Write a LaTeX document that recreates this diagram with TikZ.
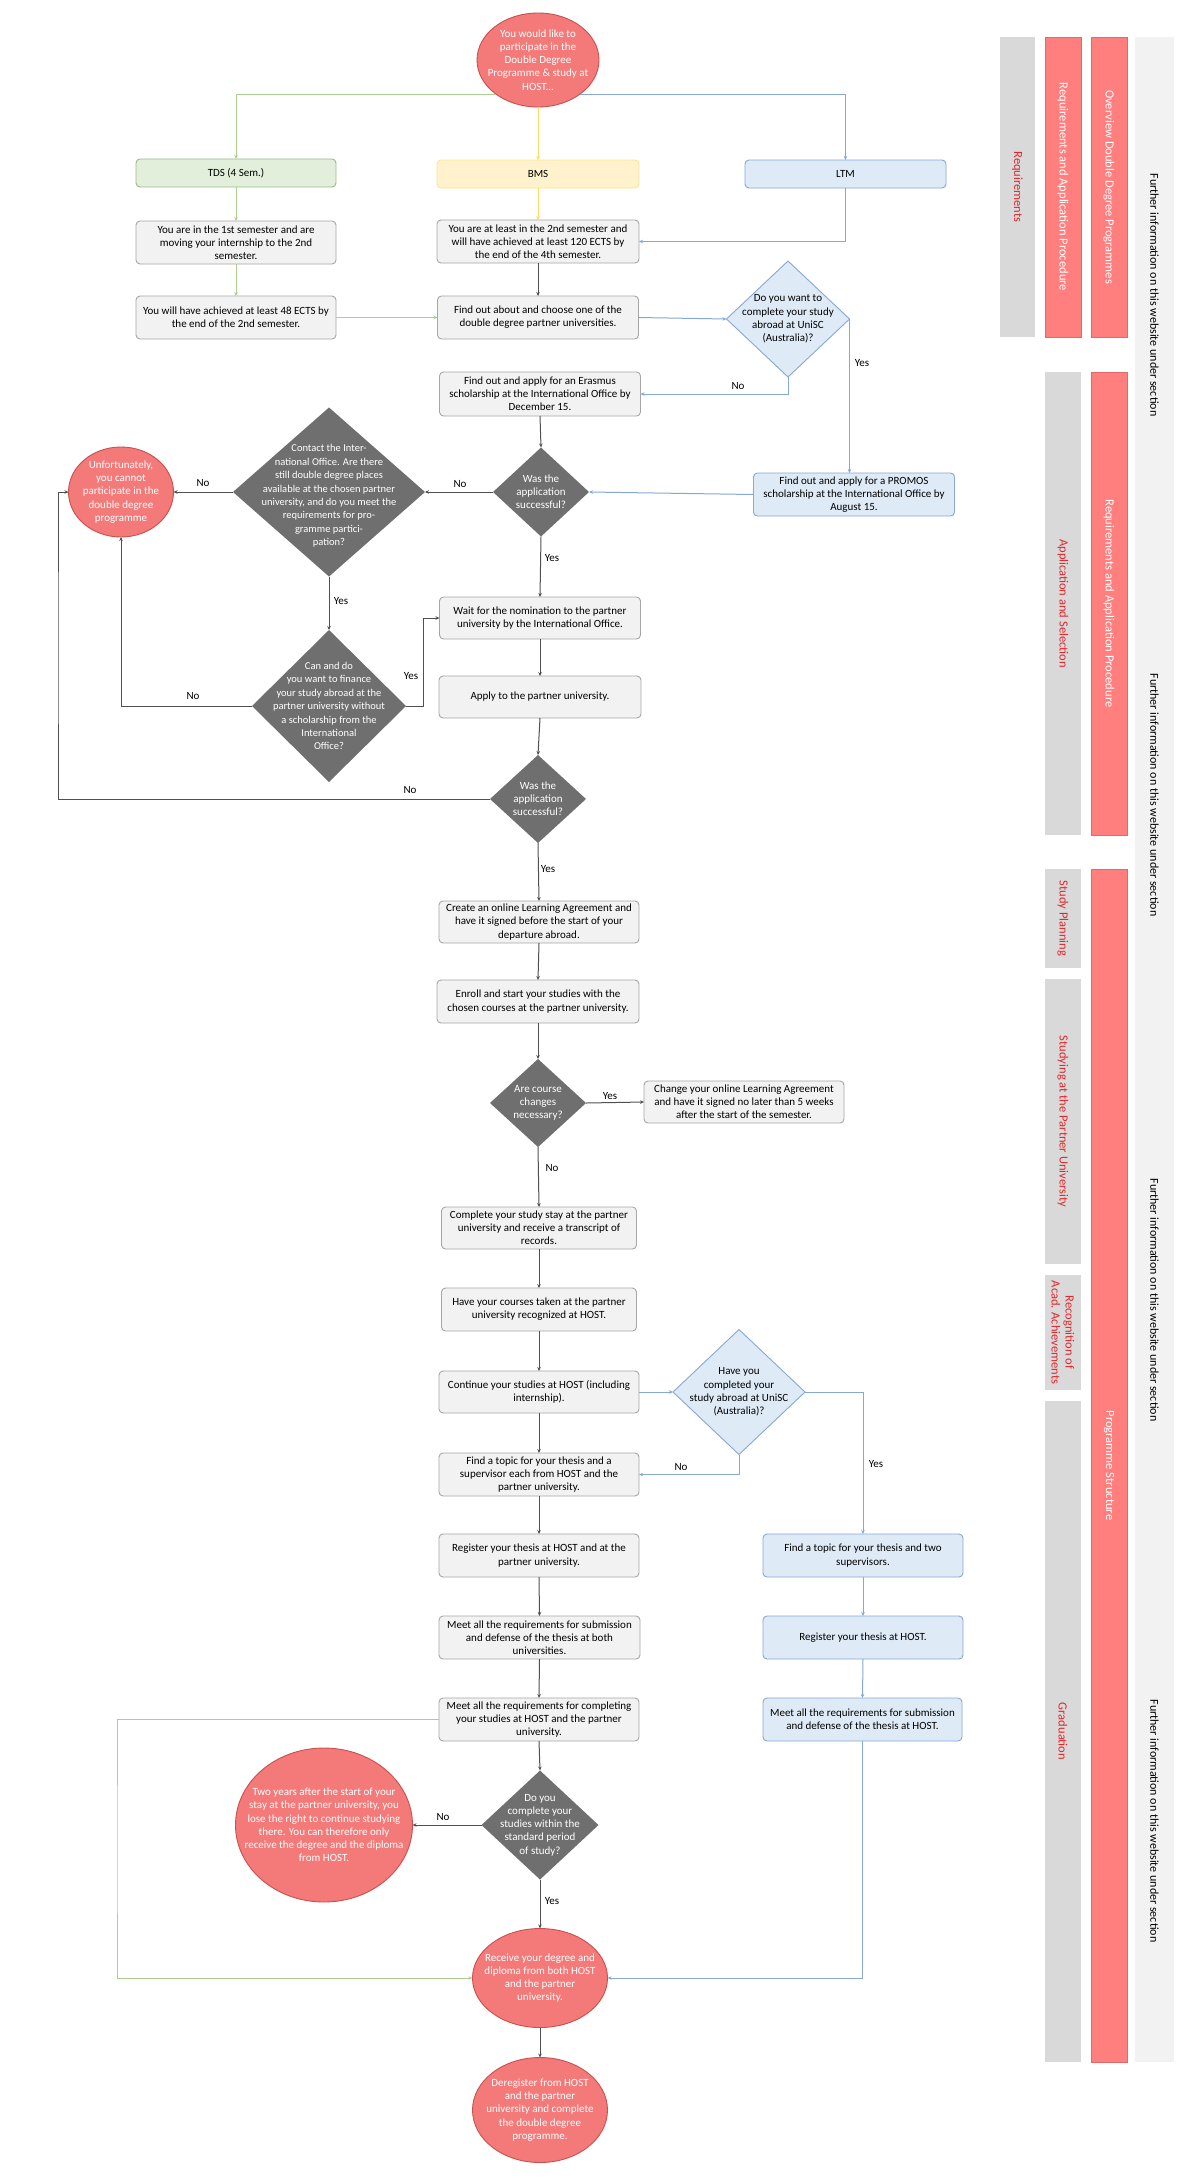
\documentclass[tikz,border=0pt]{standalone}
\usepackage{fontspec}
\setmainfont{Carlito}
\usetikzlibrary{shapes.geometric,arrows.meta}
\definecolor{boxfill}{HTML}{F2F2F2}
\definecolor{boxborder}{HTML}{A6A6A6}
\definecolor{greenfill}{HTML}{E2EFDA}
\definecolor{greenborder}{HTML}{9DB88A}
\definecolor{yellowfill}{HTML}{FFF2CC}
\definecolor{yellowborder}{HTML}{FFE38F}
\definecolor{bluefill}{HTML}{DEEBF7}
\definecolor{blueborder}{HTML}{86A8D3}
\definecolor{diagray}{HTML}{6F6F6F}
\definecolor{redfill}{HTML}{F47A7A}
\definecolor{redborder}{HTML}{C9504E}
\definecolor{barred}{HTML}{FF7F7F}
\definecolor{barredborder}{HTML}{E06A6A}
\definecolor{bargray}{HTML}{D9D9D9}
\definecolor{barlight}{HTML}{F2F2F2}
\definecolor{bartext}{HTML}{E3262B}
\definecolor{linegray}{HTML}{505050}
\definecolor{linegreen}{HTML}{A9D08E}
\definecolor{lineyellow}{HTML}{FFD966}
\definecolor{lineblue}{HTML}{86A8D3}
\begin{document}
\begin{tikzpicture}[x=1pt,y=-1pt,
  base/.style={font=\fontsize{11}{13.2}\selectfont, align=center, inner sep=0pt, outer sep=0pt},
  sz/.style 2 args={minimum width=#1, minimum height=#2},
  gbox/.style={base, rectangle, rounded corners=4pt, draw=boxborder, fill=boxfill, line width=0.9pt},
  grbox/.style={gbox, draw=greenborder, fill=greenfill},
  ybox/.style={gbox, draw=yellowborder, fill=yellowfill},
  bbox/.style={gbox, draw=blueborder, fill=bluefill},
  ddia/.style={base, diamond, fill=diagray},
  bdia/.style={base, diamond, fill=bluefill, draw=blueborder, line width=0.9pt},
  redell/.style={base, ellipse, fill=redfill, draw=redborder, line width=0.9pt},
  wtxt/.style={base, text=white},
  btxt/.style={base, text=black},
  lbl/.style={base},
  arr/.style={line width=1pt, -{Stealth[length=4pt,width=3.5pt]}},
  cgray/.style={arr, draw=linegray},
  cgreen/.style={arr, draw=linegreen},
  cyellow/.style={arr, draw=lineyellow},
  cblue/.style={arr, draw=lineblue},
  redbar/.style={rectangle, inner sep=0pt, fill=barred, draw=barredborder, line width=0.8pt},
  graybar/.style={rectangle, inner sep=0pt, fill=bargray},
  lightbar/.style={rectangle, inner sep=0pt, fill=barlight},
  redbartxt/.style={font=\fontsize{12.5}{14}\selectfont, text=white, rotate=-90, align=center, inner sep=0pt},
  graybartxt/.style={font=\fontsize{12.5}{14}\selectfont, text=bartext, rotate=-90, align=center, inner sep=0pt},
  lighttxt/.style={font=\fontsize{12}{14}\selectfont, text=black, rotate=-90, inner sep=0pt}
]
\useasboundingbox[fill=white] (0,0) rectangle (1200,2179);

% ---------- right side bars ----------
\node[lightbar, sz={39}{2025}] (lb) at (1154.5,1049.5) {};
\node[lighttxt] (lt1) at (1154.5,295) {Further information on this website under section};
\node[lighttxt] (lt2) at (1154.5,795) {Further information on this website under section};
\node[lighttxt] (lt3) at (1154.5,1300) {Further information on this website under section};
\node[lighttxt] (lt4) at (1154.5,1821) {Further information on this website under section};

\node[graybar, sz={35}{300}, label={[graybartxt]center:Requirements}] (g1) at (1017.5,187) {};
\node[redbar, sz={36}{300}, label={[redbartxt]center:Requirements and Application Procedure}] (r1) at (1063,187) {};
\node[redbar, sz={36}{300}, label={[redbartxt]center:Overview Double Degree Programmes}] (r0) at (1109,187) {};

\node[graybar, sz={36}{463}, label={[graybartxt]center:Application and Selection}] (g2) at (1063,603.5) {};
\node[redbar, sz={36}{463}, label={[redbartxt]center:Requirements and Application Procedure}] (r2) at (1109,603.5) {};

\node[graybar, sz={36}{99}, label={[graybartxt]center:Study Planning}] (g3) at (1063,918.5) {};
\node[graybar, sz={36}{285}, label={[graybartxt]center:Studying at the Partner University}] (g4) at (1063,1121.5) {};
\node[graybar, sz={36}{115}, label={[graybartxt]center:{Recognition of\\Acad. Achievements}}] (g5) at (1063,1332.5) {};
\node[graybar, sz={36}{661}, label={[graybartxt]center:Graduation}] (g6) at (1063,1731.5) {};
\node[redbar, sz={36}{1193}, label={[redbartxt]center:Programme Structure}] (r3) at (1109,1465.5) {};

% ---------- nodes ----------
\node[redell, sz={122}{94}, label={[wtxt]center:{You would like to\\participate in the\\Double Degree\\Programme \& study at\\HOST...}}] (start) at (538,60) {};

\node[grbox, sz={200}{28}] (tds) at (236,173) {TDS (4 Sem.)};
\node[ybox, sz={202}{28}] (bms) at (538,174) {BMS};
\node[bbox, sz={201}{28}] (ltm) at (845.5,174) {LTM};

\node[gbox, sz={200}{43}] (tds1) at (236,242.5) {You are in the 1st semester and are\\moving your internship to the 2nd\\semester.};
\node[gbox, sz={202}{43}] (bms1) at (538,241.5) {You are at least in the 2nd semester and\\will have achieved at least 120 ECTS by\\the end of the 4th semester.};
\node[gbox, sz={200}{43}] (tds2) at (236,317.5) {You will have achieved at least 48 ECTS by\\the end of the 2nd semester.};
\node[gbox, sz={201}{43}] (find) at (538,317.5) {Find out about and choose one of the\\double degree partner universities.};
\node[bdia, sz={123}{116}, label={[btxt]center:{Do you want to\\complete your study\\abroad at UniSC\\(Australia)?}}] (unisc) at (788,319) {};
\node[gbox, sz={201}{44}] (erasmus) at (540,394) {Find out and apply for an Erasmus\\scholarship at the International Office by\\December 15.};

\node[ddia, sz={96}{89}, label={[wtxt]center:{Was the\\application\\successful?}}] (d1) at (541,492) {};
\node[bbox, sz={201}{43}] (promos) at (854,494.5) {Find out and apply for a PROMOS\\scholarship at the International Office by\\August 15.};
\node[ddia, sz={192}{169}, label={[wtxt, font=\fontsize{10.5}{13.4}\selectfont, yshift=-4pt]center:{Contact the Inter-\\national Office. Are there\\still double degree places\\available at the chosen partner\\university, and do you meet the\\requirements for pro-\\gramme partici-\\pation?}}] (d2) at (329,492) {};
\node[redell, sz={105}{90}, label={[wtxt]center:{Unfortunately,\\you cannot\\participate in the\\double degree\\programme}}] (unfort) at (121,492) {};
\node[ddia, sz={154}{152}, label={[wtxt, font=\fontsize{10.5}{13.4}\selectfont]center:{Can and do\\you want to finance\\your study abroad at the\\partner university without\\a scholarship from the\\International\\Office?}}] (d3) at (329,706) {};

\node[gbox, sz={201}{42}] (wait) at (540,618) {Wait for the nomination to the partner\\university by the International Office.};
\node[gbox, sz={202}{42}] (apply) at (540,697) {Apply to the partner university.};
\node[ddia, sz={96}{88}, label={[wtxt]center:{Was the\\application\\successful?}}] (d4) at (538,799) {};

\node[gbox, sz={200}{42}] (la) at (539,922) {Create an online Learning Agreement and\\have it signed before the start of your\\departure abroad.};
\node[gbox, sz={202}{43}] (enroll) at (538,1001.5) {Enroll and start your studies with the\\chosen courses at the partner university.};
\node[ddia, sz={96}{88}, label={[wtxt]center:{Are course\\changes\\necessary?}}] (d5) at (538,1103) {};
\node[gbox, sz={200}{42}] (change) at (744,1102) {Change your online Learning Agreement\\and have it signed no later than 5 weeks\\after the start of the semester.};

\node[gbox, sz={195}{42}] (complete) at (539,1228) {Complete your study stay at the partner\\university and receive a transcript of\\records.};
\node[gbox, sz={195}{43}] (courses) at (539,1309.5) {Have your courses taken at the partner\\university recognized at HOST.};
\node[gbox, sz={200}{42}] (cont) at (539,1392) {Continue your studies at HOST (including\\internship).};
\node[bdia, sz={132}{125}, label={[btxt]center:{Have you\\completed your\\study abroad at UniSC\\(Australia)?}}] (d6) at (739,1392) {};

\node[gbox, sz={200}{43}] (topic) at (539,1474.5) {Find a topic for your thesis and a\\supervisor each from HOST and the\\partner university.};
\node[gbox, sz={200}{43}] (register) at (539,1555.5) {Register your thesis at HOST and at the\\partner university.};
\node[bbox, sz={200}{43}] (topic2) at (863,1555.5) {Find a topic for your thesis and two\\supervisors.};
\node[gbox, sz={201}{43}] (meet1) at (539.5,1637.5) {Meet all the requirements for submission\\and defense of the thesis at both\\universities.};
\node[bbox, sz={200}{43}] (register2) at (863,1637.5) {Register your thesis at HOST.};
\node[gbox, sz={200}{43}] (meet3) at (539,1719.5) {Meet all the requirements for completing\\your studies at HOST and the partner\\university.};
\node[bbox, sz={199}{43}] (meet2) at (862.5,1719.5) {Meet all the requirements for submission\\and defense of the thesis at HOST.};

\node[ddia, sz={117}{109}, label={[wtxt]center:{Do you\\complete your\\studies within the\\standard period\\of study?}}] (d7) at (540,1825) {};
\node[redell, sz={177}{154}, label={[wtxt]center:{Two years after the start of your\\stay at the partner university, you\\lose the right to continue studying\\there. You can therefore only\\receive the degree and the diploma\\from HOST.}}] (two) at (324,1825) {};
\node[redell, sz={135}{99}, label={[wtxt]center:{Receive your degree and\\diploma from both HOST\\and the partner\\university.}}] (receive) at (540,1978) {};
\node[redell, sz={135}{105}, label={[wtxt]center:{Deregister from HOST\\and the partner\\university and complete\\the double degree\\programme.}}] (dereg) at (540,2110) {};

\coordinate (lftc) at (58,650);
\coordinate (grc) at (117,1850);

% ---------- connectors ----------
\draw[cgreen] (start.219) -| (tds.north);
\draw[cyellow] (start.south) -- (bms.north);
\draw[cblue] (start.-39) -| (ltm.north);
\draw[cgreen] (tds.south) -- (tds1.north);
\draw[cgreen] (tds1.south) -- (tds2.north);
\draw[cyellow] (bms.south) -- (bms1.north);
\draw[cblue] (ltm.south) |- (bms1.east);
\draw[cgray] (bms1.south) -- (find.north);
\draw[cgreen] (tds2.east) -- (find.west);
\draw[cblue] (find.east) -- (unisc.west);
\draw[cblue] (unisc.south) |- (erasmus.east);
\draw[cblue] (unisc.east) -- (unisc.east |- promos.north);
\draw[cgray] (erasmus.south) -- (d1.north);
\draw[cblue] (promos.west) -- (d1.east);
\draw[cgray] (d1.west) -- (d2.east);
\draw[cgray] (d2.west) -- (unfort.east);
\draw[cgray] (d2.south) -- (d3.north);
\draw[cgray] (d3.west) -| (unfort.south);
\draw[cgray] (d3.east) -- ++(17,0) |- (wait.west);
\draw[cgray] (d1.south) -- (wait.north);
\draw[cgray] (wait.south) -- (apply.north);
\draw[cgray] (apply.south) -- (d4.north);
\draw[cgray] (d4.west) -| (lftc) |- (unfort.west);
\draw[cgray] (d4.south) -- (la.north);
\draw[cgray] (la.south) -- (enroll.north);
\draw[cgray] (enroll.south) -- (d5.north);
\draw[cgray] (d5.east) -- (change.west);
\draw[cgray] (d5.south) -- (complete.north);
\draw[cgray] (complete.south) -- (courses.north);
\draw[cgray] (courses.south) -- (cont.north);
\draw[cblue] (cont.east) -- (d6.west);
\draw[cblue] (d6.south) |- (topic.east);
\draw[cblue] (d6.east) -| (topic2.north);
\draw[cgray] (cont.south) -- (topic.north);
\draw[cgray] (topic.south) -- (register.north);
\draw[cgray] (register.south) -- (meet1.north);
\draw[cgray] (meet1.south) -- (meet3.north);
\draw[cblue] (topic2.south) -- (register2.north);
\draw[cblue] (register2.south) -- (meet2.north);
\draw[cgray] (meet3.south) -- (d7.north);
\draw[cgreen] (meet3.west) -| (grc) |- (receive.west);
\draw[cblue] (meet2.south) |- (receive.east);
\draw[cgray] (d7.west) -- (two.east);
\draw[cgray] (d7.south) -- (receive.north);
\draw[cgray] (receive.south) -- (dereg.north);

% ---------- labels ----------
\node[lbl] (n1) at (738,386) {No};
\node[lbl] (y1) at (862,363) {Yes};
\node[lbl] (n2) at (460,484) {No};
\node[lbl] (n3) at (203,483) {No};
\node[lbl] (y2) at (341,601) {Yes};
\node[lbl] (n4) at (193,696) {No};
\node[lbl] (y3) at (411,676) {Yes};
\node[lbl] (y4) at (552,558) {Yes};
\node[lbl] (n5) at (410,790) {No};
\node[lbl] (y5) at (548,869) {Yes};
\node[lbl] (y6) at (610,1096) {Yes};
\node[lbl] (n6) at (552,1168) {No};
\node[lbl] (n7) at (681,1467) {No};
\node[lbl] (y7) at (876,1464) {Yes};
\node[lbl] (n8) at (443,1817) {No};
\node[lbl] (y8) at (552,1901) {Yes};
\end{tikzpicture}
\end{document}
